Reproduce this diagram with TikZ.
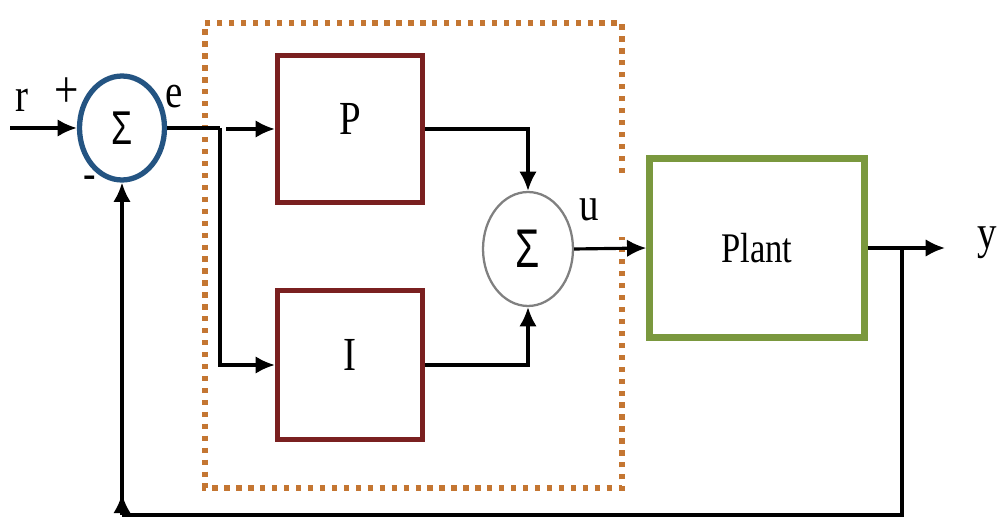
\documentclass[tikz,border=0pt]{standalone}
\usepackage{fontspec}
\setmainfont[FakeStretch=0.82]{Liberation Serif}
\newfontfamily\sigmafont[FakeStretch=0.72]{Liberation Sans}
\usepackage{tikz}
\usepackage{xcolor}
\usetikzlibrary{arrows.meta,shapes.geometric,decorations.markings}

\definecolor{boxred}{RGB}{122,32,32}
\definecolor{sumblue}{RGB}{36,84,130}
\definecolor{plantgreen}{RGB}{122,152,62}
\definecolor{pidorange}{RGB}{196,118,50}

\tikzset{
  sig/.style={line width=1.8pt, -{Latex[length=11pt,width=10pt]}},
  wire/.style={line width=1.8pt},
  sumnode/.style={ellipse, inner sep=0pt, font=\sigmafont\fontsize{27}{28}\selectfont},
  gainbox/.style={draw=boxred, line width=3pt, inner sep=0pt, minimum width=2.9cm, text depth=0.4cm, font=\fontsize{27}{30}\selectfont},
  lbl/.style={font=\fontsize{27}{30}\selectfont, inner sep=0pt},
  dotbox/.style={draw=pidorange, line width=3.2pt, dash pattern=on 3pt off 3.8pt},
}

\begin{document}
\begin{tikzpicture}[x=0.02cm, y=-0.02cm]
  \useasboundingbox (0,0) rectangle (1000,519);

  % PI controller frame
  \draw[dotbox] (622,173) -- (622,23) -- (205,23) -- (205,488) -- (622,488) -- (622,237);

  % summing junctions
  \node[sumnode, draw=sumblue, line width=3pt, minimum width=1.7cm, minimum height=2.08cm] (sum1) at (122,128) {Σ};
  \node[sumnode, draw=gray, line width=1.3pt, minimum width=1.8cm, minimum height=2.28cm, font=\sigmafont\fontsize{31}{32}\selectfont] (sum2) at (528,249) {Σ};

  % P and I
  \node[gainbox, minimum height=2.94cm] (pbox) at (350,129) {P};
  \node[gainbox, minimum height=2.98cm] (ibox) at (350,365) {I};

  % Plant
  \node[draw=plantgreen, line width=3.6pt, minimum width=4.3cm, minimum height=3.58cm, font=\fontsize{24}{28}\selectfont] (plant) at (757,248) {Plant};

  % signal labels
  \node[lbl] (rlbl) at (22,100) {r};
  \node[lbl, font=\fontsize{30}{30}\selectfont] (plus) at (67,93) {+};
  \node[lbl] (elbl) at (174,97) {e};
  \node[lbl, font=\fontsize{26}{26}\selectfont] (minus) at (90,182) {-};
  \node[lbl] (ulbl) at (589,210) {u};
  \node[lbl] (ylbl) at (987,243) {y};

  % points
  \coordinate (rin) at (10,128);
  \coordinate (ebranch) at (220,128);
  \coordinate (egap) at (226,129);
  \coordinate (yout) at (945,248);
  \coordinate (ybranch) at (902,248);
  \coordinate (fbcorner) at (122,515);

  % forward path
  \draw[sig] (rin) -- (sum1.west);
  \draw[wire] (sum1.east) -- (ebranch);
  \draw[sig] (egap) -- (pbox.west);
  \draw[sig] (ebranch) |- (ibox.west);
  \draw[sig] (pbox.east) -| (sum2.north);
  \draw[sig] (ibox.east) -| (sum2.south);
  \draw[sig] (sum2.east) -- (plant.west);
  \draw[sig] (plant.east) -- (yout);

  % feedback
  \draw[wire] (ybranch) |- (fbcorner);
  \draw[sig, postaction={decorate}, decoration={markings, mark=at position 12pt with {\arrow{Latex[length=11pt,width=10pt]}}}] (fbcorner) -- (sum1.south);
\end{tikzpicture}
\end{document}
